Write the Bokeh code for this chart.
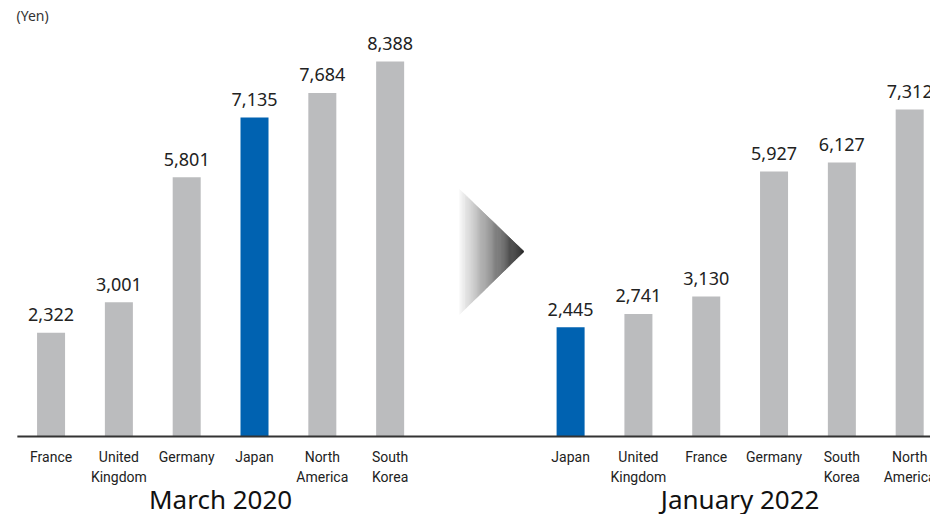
from bokeh.plotting import figure
from bokeh.models import ColumnDataSource
from bokeh.core.properties import value
from bokeh.embed import file_html
from bokeh.resources import INLINE

# ---- data ----
cats_2020 = ["France", "United\nKingdom", "Germany", "Japan", "North\nAmerica", "South\nKorea"]
vals_2020 = [2322, 3001, 5801, 7135, 7684, 8388]
cats_2022 = ["Japan", "United\nKingdom", "France", "Germany", "South\nKorea", "North\nAmerica"]
vals_2022 = [2445, 2741, 3130, 5927, 6127, 7312]
period_titles = ["March 2020", "January 2022"]
unit_label = "(Yen)"

GRAY = "#BBBCBE"
BLUE = "#0062B1"
FONT = "Noto Sans"
NARROW = "Roboto"

# layout (in slot units)
right_offset = 7.661
bar_w = 0.413
Y_TOP = 9752
Y_BOT = -1745

W, H = 930, 514
p = figure(width=W, height=H, output_backend="svg", toolbar_location=None,
           x_range=(-0.7456, 12.968), y_range=(Y_BOT, Y_TOP),
           min_border=0, min_border_left=0, min_border_right=0,
           min_border_top=0, min_border_bottom=0)
p.axis.visible = False
p.grid.visible = False
p.outline_line_color = None
p.background_fill_color = "white"
p.border_fill_color = "white"

xs, vals, labels, colors, txt = [], [], [], [], []
for i, (c, v) in enumerate(zip(cats_2020, vals_2020)):
    xs.append(i); vals.append(v); labels.append(c)
    colors.append(BLUE if c == "Japan" else GRAY); txt.append(f"{v:,}")
for i, (c, v) in enumerate(zip(cats_2022, vals_2022)):
    xs.append(i + right_offset); vals.append(v); labels.append(c)
    colors.append(BLUE if c == "Japan" else GRAY); txt.append(f"{v:,}")

src = ColumnDataSource(dict(x=xs, top=vals, cat=labels, color=colors, txt=txt,
                            zero=[0] * len(xs)))

p.vbar(x="x", top="top", width=bar_w, color="color", source=src, line_color=None)

# baseline
p.segment(x0=[-0.497], y0=[0], x1=[13.5], y1=[0], line_color="#333333", line_width=2)

# value labels
p.text(x="x", y="top", text="txt", source=src, text_align="center",
       text_baseline="alphabetic", y_offset=-18, text_font=value(FONT),
       text_font_size="18px", text_color="#222222")

# category labels
p.text(x="x", y="zero", text="cat", source=src, text_align="center",
       text_baseline="top", y_offset=13, text_font=value(NARROW),
       text_font_size="14px", text_color="#222222", text_line_height=1.2)

# period titles
n1 = len(cats_2020) - 1
n2 = len(cats_2022) - 1
p.text(x=[n1 / 2, right_offset + n2 / 2], y=[0, 0], text=period_titles,
       text_align="center", text_baseline="alphabetic", y_offset=63,
       text_font=value(FONT), text_font_size="26px", text_color="#111111")

# unit label
p.text(x=[-0.51], y=[Y_TOP], text=[unit_label], text_align="left",
       text_baseline="middle", y_offset=15, text_font=value(FONT),
       text_font_size="14px", text_color="#333333")

# gradient arrow (decorative)
ax0, ax1 = 6.023, 6.974
ay_top, ay_bot, ay_tip = 5526, 2729, 4137
N = 60
for k in range(N):
    xa = ax0 + (ax1 - ax0) * k / N
    xb = ax0 + (ax1 - ax0) * (k + 1) / N
    fa = k / N
    fb = (k + 1) / N
    ta = ay_top + (ay_tip - ay_top) * fa
    tb = ay_top + (ay_tip - ay_top) * fb
    ba = ay_bot + (ay_tip - ay_bot) * fa
    bb = ay_bot + (ay_tip - ay_bot) * fb
    t = (k + 0.5) / N
    g = int(round(250 - (250 - 35) * t))
    col = "#%02x%02x%02x" % (g, g, g)
    p.patch(x=[xa, xb, xb, xa], y=[ba, bb, tb, ta], fill_color=col,
            line_color=col, line_width=0.5)

open("out.html", "w").write(file_html(p, INLINE))
